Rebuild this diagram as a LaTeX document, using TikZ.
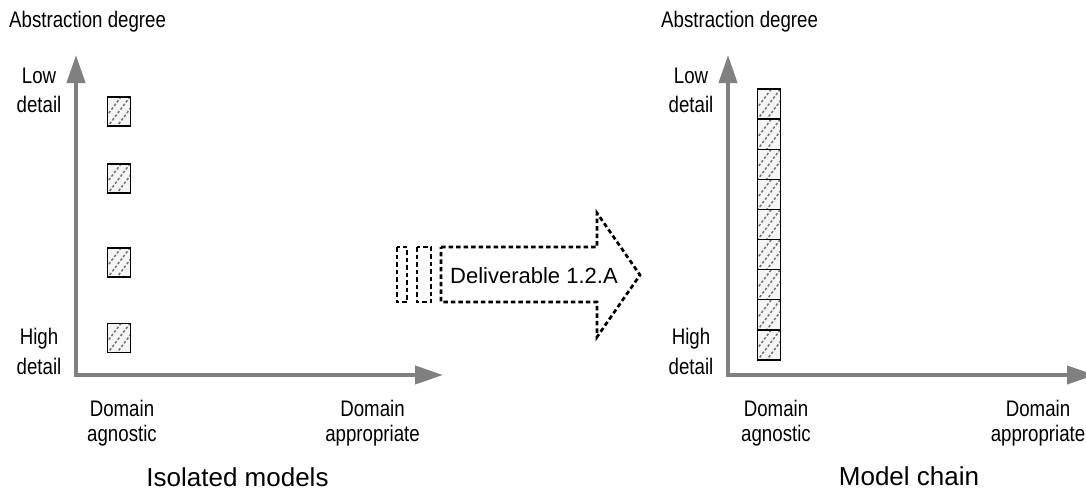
\documentclass[tikz,border=0pt]{standalone}
\usepackage{fontspec}
\setmainfont{Liberation Sans}
\newfontfamily\narrowfont[FakeStretch=0.83]{Liberation Sans}
\usetikzlibrary{arrows.meta,positioning}
\tikzstyle{axis} = [draw=gray, line width=4pt, {Triangle[length=28pt,width=18pt]}-{Triangle[length=28pt,width=18pt]}]
\tikzstyle{lbl} = [inner sep=0pt, font=\narrowfont\fontsize{22.5}{27}\selectfont]
\tikzstyle{ylbl} = [lbl, align=center, anchor=base, font=\narrowfont\fontsize{22.5}{29.5}\selectfont]
\tikzstyle{xlbl} = [lbl, align=center, anchor=base, font=\narrowfont\fontsize{22.5}{25}\selectfont]
\tikzstyle{title} = [inner sep=0pt, anchor=base, font=\fontsize{26}{30}\selectfont]
\tikzstyle{model} = [rectangle, draw=black, line width=1.3pt, fill=gray!8, minimum width=23pt, minimum height=29pt, inner sep=0pt,
  path picture={\foreach \d in {-9,0,9} \draw[black!55, line width=1.5pt, dash pattern=on 2.5pt off 2pt] ([xshift=\d pt]path picture bounding box.center) ++(-12,16) -- ++(24,-32);}]
\tikzstyle{deliv} = [draw=black, line width=2.7pt, dash pattern=on 4.5pt off 3pt]

\begin{document}
\begin{tikzpicture}[x=1pt,y=-1pt]
\useasboundingbox (0,0) rectangle (1086,493);
% isolated models
\coordinate (o1) at (76,375);
\coordinate (y1) at (76,55);
\coordinate (x1) at (443,375);
\draw[axis] (y1) -- (o1) -- (x1);
\node[lbl, anchor=base west] (abs1) at (9,27) {Abstraction degree};
\node[ylbl] (low1) at (39,112.5) {Low\\detail};
\node[ylbl] (high1) at (39,374) {High\\detail};
\node[xlbl] (agn1) at (122,441.5) {Domain\\agnostic};
\node[xlbl] (app1) at (372.5,441.5) {Domain\\appropriate};
\node[title] (iso) at (237.5,486.5) {Isolated models};
\foreach \y [count=\i] in {111.5,178.5,262.5,338}
  \node[model] (m\i) at (119,\y) {};
% deliverable
\draw[deliv] (397,247) rectangle (407,302);
\draw[deliv] (417,247) rectangle (431,302);
\draw[deliv] (441,247) -- (597,247) -- (597,213) -- (640,275) -- (597,337) -- (597,302) -- (441,302) -- cycle;
\node[inner sep=0pt, anchor=base west, font=\fontsize{22}{26}\selectfont] (dl) at (450,283) {Deliverable 1.2.A};
% model chain
\coordinate (o2) at (728,375);
\coordinate (y2) at (728,55);
\coordinate (x2) at (1095,375);
\draw[axis] (y2) -- (o2) -- (x2);
\node[lbl, anchor=base west] (abs2) at (661,27) {Abstraction degree};
\node[ylbl] (low2) at (691,112.5) {Low\\detail};
\node[ylbl] (high2) at (691,374) {High\\detail};
\node[xlbl] (agn2) at (776,441.5) {Domain\\agnostic};
\node[xlbl] (app2) at (1038,441.5) {Domain\\appropriate};
\node[title] (chain) at (909,485) {Model chain};
\foreach \i in {0,...,8}
  \node[model, minimum height=30pt] (c\i) at (769,{104.1+30.1*\i}) {};
\end{tikzpicture}
\end{document}
